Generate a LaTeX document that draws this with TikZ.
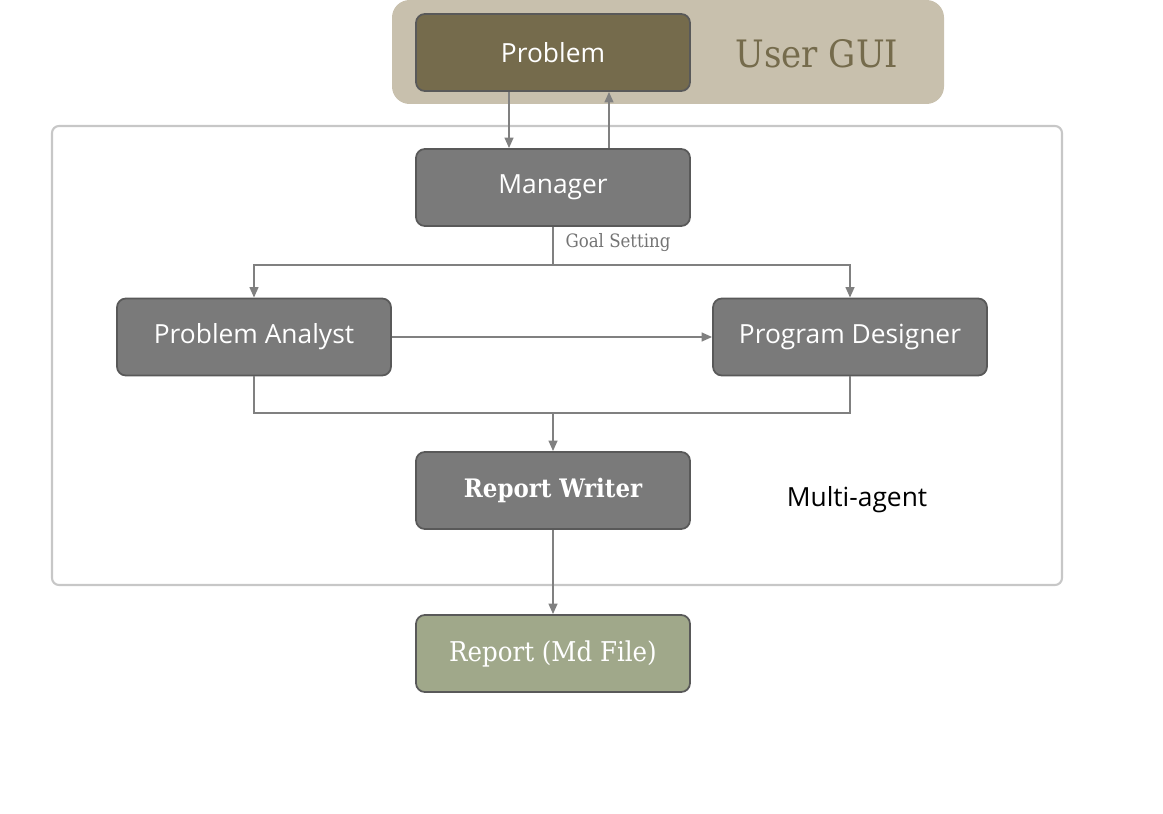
\documentclass[tikz,border=0pt]{standalone}
\usepackage{fontspec}
\setmainfont{DejaVu Serif Condensed}
\setsansfont{Open Sans}
\usetikzlibrary{arrows.meta}
\definecolor{guibg}{RGB}{200,192,173}
\definecolor{probfill}{RGB}{117,107,76}
\definecolor{agentfill}{RGB}{122,122,122}
\definecolor{reportfill}{RGB}{160,168,138}
\definecolor{linegray}{RGB}{128,128,128}

\begin{document}
\begin{tikzpicture}[x=0.02cm, y=-0.02cm,
    box/.style={draw=black!65, line width=1pt, rounded corners=5pt,
      minimum width=5.48cm, minimum height=1.54cm, inner sep=0pt,
      fill=agentfill, text=white, font=\sffamily\fontsize{15}{18}\selectfont},
    serifbox/.style={box, font=\fontsize{15.5}{20}\selectfont},
    flow/.style={draw=linegray, line width=1.1pt},
    >={Triangle[length=6pt,width=5pt]}]
    \useasboundingbox (0,0) rectangle (1163,814);

    % backgrounds
    \fill [guibg, rounded corners=10pt] (392,0) rectangle (944,104);
    \draw [black!22, line width=1.2pt, rounded corners=4pt] (52,126) rectangle (1062,585);

    % agents
    \node (problem) at (553,52.5) [box, fill=probfill] {Problem};
    \node (guilabel) at (817,54) [text=probfill, font=\fontsize{21.5}{26}\selectfont] {User GUI};
    \node (manager) at (553,187.5) [box] {Manager};
    \node (analyst) at (254,337) [box] {Problem Analyst};
    \node (designer) at (850,337) [box] {Program Designer};
    \node (writer) at (553,490.5) [serifbox, font=\bfseries\fontsize{14.5}{20}\selectfont] {Report Writer};
    \node (report) at (553,653.5) [serifbox, fill=reportfill] {Report (Md File)};
    \node (multilabel) at (857,500) [font=\sffamily\fontsize{15}{18}\selectfont] {Multi-agent};

    % connectors
    \draw [flow,->] ([xshift=-0.88cm]problem.south) -- ([xshift=-0.88cm]manager.north);
    \draw [flow,->] ([xshift=1.12cm]manager.north) -- ([xshift=1.12cm]problem.south);
    \draw [flow] (manager.south) -- ++(0,38) coordinate (goal);
    \node (goallbl) at (618,243) [text=black!55, font=\fontsize{10.5}{12}\selectfont] {Goal Setting};
    \draw [flow,->] (goal) -| (analyst.north);
    \draw [flow,->] (goal) -| (designer.north);
    \draw [flow,->] (analyst.east) -- (designer.west);
    \coordinate (merge) at (553,413);
    \draw [flow] (analyst.south) |- (merge) -| (designer.south);
    \draw [flow,->] (merge) -- (writer.north);
    \draw [flow,->] (writer.south) -- (report.north);
\end{tikzpicture}
\end{document}
